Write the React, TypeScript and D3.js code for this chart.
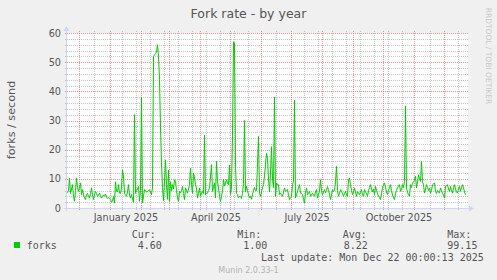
import React from "react";
import * as d3 from "d3";

const W = 497;
const H = 280;

// time range of the plot (one pixel per day)
const startDate = new Date(Date.UTC(2024, 10, 19));
const endDate = new Date(Date.UTC(2025, 11, 25));

// daily fork rate values, starting Nov 19 2024
const forks: number[] = [
  5.2, 6, 10.3, 5, 6.5, 8, 4, 2.3, 6, 10.3, 7, 5.7, 7, 8.6, 4.6, 6.3, 4.5, 3.5, 2.9, 4.6,
  5, 4, 3.4, 5, 6.9, 4.5, 2.9, 4.5, 5.7, 5, 4, 4.5, 5.1, 4, 3.4, 4, 4.5, 4, 4.8, 3.8,
  3.2, 3.6, 3.4, 2.9, 2, 2.3, 4, 1.7, 9, 5.7, 5.5, 8, 5.1, 5, 7, 13, 11, 5.1, 4.5, 4,
  5.5, 8, 4.5, 3.4, 4.6, 3, 2, 32, 5, 6, 6.5, 7.4, 2.3, 6, 38, 1.7, 4, 6.3, 6, 5.5,
  5.7, 6, 6.3, 5.5, 4.6, 6.9, 52, 52.5, 53, 53.5, 56, 52, 44, 28, 15.5, 7, 2.5, 9, 16.5, 8,
  3, 13, 2.3, 9, 6, 8, 6.5, 9.7, 9.1, 6, 3.5, 2.3, 5.7, 5.1, 6, 7.4, 5, 2.9, 6.9, 6,
  5.1, 6.5, 8, 13.7, 8, 5, 12, 10.3, 8, 6.9, 3.4, 5, 6.9, 4, 5, 5.7, 5, 25, 4.6, 5,
  5.1, 6, 6.9, 10.7, 14.9, 5.7, 7, 8.6, 3.4, 16, 9, 6.9, 4, 2.3, 4, 5.7, 9.7, 7.5, 8.6, 9.7,
  8.5, 8, 14.7, 4.6, 6.9, 25, 57, 56.5, 15, 5, 4.5, 3.5, 4, 3.9, 3.3, 5, 8.5, 30, 5.5, 7.5,
  6, 4.5, 3.5, 4, 3, 4.5, 6, 7, 6, 6, 15, 24.5, 5, 4, 5.5, 7, 8, 11, 15, 18.7,
  17, 10, 5.5, 12, 21, 10, 7, 38, 4, 8.6, 8, 8, 4.6, 5.1, 4.5, 4, 5.5, 6.9, 5.7, 6,
  6.3, 4.5, 2.9, 3.5, 4, 8, 9, 37, 3.4, 4.5, 5.7, 7, 8, 5.1, 5, 4.6, 3, 1.7, 5, 6.9,
  4.6, 5, 5.7, 4, 4.5, 5.1, 4.5, 4, 5.5, 6.3, 3.4, 4.5, 5.7, 9.7, 6, 4.6, 5.5, 6.3, 5.1, 6,
  7.4, 6, 4.6, 2.9, 4.5, 6.3, 5.7, 6, 9, 14.3, 6, 4, 5, 6.3, 5.7, 5, 4, 5, 5.7, 4.5,
  4, 9.7, 10.3, 8, 6, 4.6, 5.5, 6.9, 5.5, 4, 5.7, 5, 4.6, 5.5, 6.3, 4.5, 4, 6.3, 5.5, 5,
  4, 6, 7, 8, 6.5, 5.5, 6.5, 4.6, 7.4, 6, 5, 4, 3.5, 2.9, 5, 7, 8, 8.6, 7, 5.5,
  4.6, 6, 7, 8, 6, 4.5, 3.5, 2.9, 5, 6, 6.9, 7.5, 8, 5.7, 6.5, 8, 7, 9.1, 35, 6.9,
  5.5, 4.5, 4, 8, 7, 8.5, 9, 9.5, 10.9, 6.9, 9, 11.4, 10, 9.1, 16, 9, 8, 5.1, 6.5, 8,
  7, 6, 6.9, 5.1, 6, 8, 8.2, 8.6, 5.7, 5, 6, 5.5, 5.1, 6.9, 6, 5, 4.5, 3.4, 7.4, 7.5,
  8, 6.5, 5.7, 7.4, 6, 5.1, 7, 8, 6.5, 5.5, 5.1, 6.5, 7.4, 5.7, 7, 8, 7, 5.5, 4.6,
];

const yTicks = [0, 10, 20, 30, 40, 50, 60];
const yMinorStep = 2;
const legendHeaders = ["Cur:", "Min:", "Avg:", "Max:"];
const legendValues = ["4.60", "1.00", "8.22", "99.15"];
const seriesName = "forks";
const title = "Fork rate - by year";
const yLabel = "forks / second";
const lastUpdate = "Last update: Mon Dec 22 00:00:13 2025";
const version = "Munin 2.0.33-1";
const watermark = "RRDTOOL / TOBI OETIKER";

const PLOT_L = 67;
const PLOT_R = 468;
const PLOT_T = 33;
const PLOT_B = 208;

export default function App() {
  const x = d3.scaleUtc().domain([startDate, endDate]).range([PLOT_L, PLOT_R]);
  const y = d3.scaleLinear().domain([0, 60]).range([PLOT_B, PLOT_T]);

  const points = forks.map((v, i) => ({ d: d3.utcDay.offset(startDate, i), v }));
  const line = d3
    .line<{ d: Date; v: number }>()
    .x((p) => x(p.d) + 0.5)
    .y((p) => y(p.v));

  const months = d3.utcMonth.range(d3.utcDay.offset(startDate, 1), endDate);
  const mondays = d3.utcMonday.range(startDate, endDate).filter((_, i) => i % 2 === 1);
  const monthXs = months.map((m) => Math.round(x(m)));
  const minorXs = mondays
    .map((m) => Math.round(x(m)))
    .filter((px) => monthXs.every((mx) => Math.abs(mx - px) > 2));
  const quarters = d3.utcMonth.every(3)!.range(d3.utcDay.offset(startDate, 1), endDate);
  const fmt = d3.utcFormat("%B %Y");

  const yMinor = d3.range(0, 61, yMinorStep).filter((v) => v % 10 !== 0);

  const font = "'DejaVu Sans', sans-serif";
  const mono = "'DejaVu Sans Mono', monospace";
  const textColor = "#555";
  const gridMinor = "rgba(143,143,143,0.5)";
  const gridMajor = "rgba(222,79,79,0.6)";
  const legendX = [131.7, 237.3, 342.7, 447.3];
  const valueX = [137.7, 243.3, 343.7, 447.3];

  return (
    <svg
      width={W}
      height={H}
      style={{ position: "absolute", left: 0, top: 0, display: "block" }}
    >
      <rect x={0} y={0} width={W} height={H} fill="#F0F0F0" />
      <rect x={PLOT_L} y={PLOT_T} width={PLOT_R - PLOT_L} height={PLOT_B - PLOT_T} fill="#FFFFFF" />

      {/* horizontal minor grid */}
      {yMinor.map((v) => {
        const py = Math.round(y(v)) + 0.5;
        return (
          <line key={"hm" + v} x1={PLOT_L - 2} x2={PLOT_R + 1} y1={py} y2={py}
            stroke={gridMinor} strokeDasharray="1,1" shapeRendering="crispEdges" />
        );
      })}
      {/* vertical minor grid */}
      {minorXs.map((px, i) => (
        <line key={"vm" + i} x1={px + 0.5} x2={px + 0.5} y1={PLOT_T - 2} y2={PLOT_B + 2}
          stroke={gridMinor} strokeDasharray="1,1" shapeRendering="crispEdges" />
      ))}
      {/* horizontal major grid */}
      {yTicks.filter((v) => v > 0).map((v) => {
        const py = Math.round(y(v)) + 0.5;
        return (
          <line key={"hM" + v} x1={PLOT_L - 2} x2={PLOT_R + 1} y1={py} y2={py}
            stroke={gridMajor} strokeDasharray="1,1" shapeRendering="crispEdges" />
        );
      })}
      {/* vertical major grid */}
      {monthXs.map((px, i) => (
        <line key={"vM" + i} x1={px + 0.5} x2={px + 0.5} y1={PLOT_T - 2} y2={PLOT_B + 2}
          stroke={gridMajor} strokeDasharray="1,1" shapeRendering="crispEdges" />
      ))}

      {/* axes */}
      <line x1={PLOT_L - 3} x2={PLOT_R + 2} y1={PLOT_B + 0.5} y2={PLOT_B + 0.5} stroke="#CFD6F8" shapeRendering="crispEdges" />
      <line x1={PLOT_L - 0.5} x2={PLOT_L - 0.5} y1={PLOT_B + 3} y2={PLOT_T - 4} stroke="#CFD6F8" shapeRendering="crispEdges" />
      <path d={`M${PLOT_R + 1},${PLOT_B - 2.5} L${PLOT_R + 6},${PLOT_B + 0.5} L${PLOT_R + 1},${PLOT_B + 3.5} Z`} fill="#CFD6F8" />
      <path d={`M${PLOT_L - 3.5},${PLOT_T - 2} L${PLOT_L - 0.5},${PLOT_T - 7} L${PLOT_L + 2.5},${PLOT_T - 2} Z`} fill="#CFD6F8" />

      {/* data */}
      <path d={line(points) || ""} fill="none" stroke="#00CC00" strokeWidth={1} />

      {/* y tick labels */}
      {yTicks.map((v) => (
        <text key={"yl" + v} x={61} y={y(v) + 3.6} textAnchor="end" fontFamily={font} fontSize={9.7} fill={textColor}>
          {v}
        </text>
      ))}
      {/* x labels */}
      {quarters.map((q, i) => (
        <text key={"xl" + i} x={x(d3.utcDay.offset(q, 16))} y={221} textAnchor="middle" fontFamily={font} fontSize={9.7} fill={textColor}>
          {fmt(q)}
        </text>
      ))}

      {/* title */}
      <text x={248.5} y={18} textAnchor="middle" fontFamily={font} fontSize={12.5} fill={textColor}>
        {title}
      </text>
      {/* y axis label */}
      <text transform="translate(15,120) rotate(-90)" textAnchor="middle" fontFamily={font} fontSize={11.2} fill={textColor}>
        {yLabel}
      </text>
      {/* watermark */}
      <text transform="translate(486,56) rotate(90)" textAnchor="middle" fontFamily={font} fontSize={7.5} fill="#C8C8C8">
        {watermark}
      </text>

      {/* legend */}
      <rect x={14} y={242} width={6} height={6} fill="#00CC00" />
      <text x={26.7} y={249} fontFamily={mono} fontSize={10} fill={textColor}>{seriesName}</text>
      {legendHeaders.map((h, i) => (
        <text key={"lh" + i} x={legendX[i]} y={238} fontFamily={mono} fontSize={10} fill={textColor}>
          {h}
        </text>
      ))}
      {legendValues.map((v, i) => (
        <text key={"lv" + i} x={valueX[i]} y={249} fontFamily={mono} fontSize={10} fill={textColor}>
          {v}
        </text>
      ))}
      <text x={261} y={261} fontFamily={mono} fontSize={10} fill={textColor}>{lastUpdate}</text>
      <text x={248.5} y={272.5} textAnchor="middle" fontFamily={font} fontSize={8} fill="#B4B4B4">{version}</text>
    </svg>
  );
}
